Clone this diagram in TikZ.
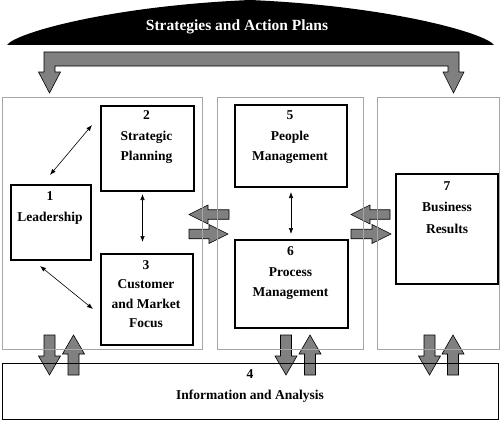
\documentclass[tikz,border=0pt]{standalone}
\usepackage{fontspec}
\setmainfont{Liberation Serif}
\usetikzlibrary{arrows.meta}
\definecolor{fatgray}{HTML}{808080}
\definecolor{outergray}{HTML}{A6A6A6}
\begin{document}
\tikzset{
  outer/.style={draw=outergray, line width=0.8pt, inner sep=0pt, anchor=north west},
  inner/.style={draw=black, line width=1.6pt, inner sep=0pt, anchor=north west},
  lbl/.style={font=\fontsize{13.5}{20.5}\selectfont\bfseries, align=center, inner sep=0pt},
  fatfill/.style={fill=fatgray, draw=black, line width=0.6pt},
  thinarrow/.style={{Latex[length=6pt,width=4.5pt]}-{Latex[length=6pt,width=4.5pt]}, line width=0.6pt},
  pics/fat/.style n args={2}{code={\draw[fatfill] (0,-#2/2) -- (#1-19,-#2/2) -- (#1-19,-#2) -- (#1,0) -- (#1-19,#2) -- (#1-19,#2/2) -- (0,#2/2) -- cycle;}}
}
\begin{tikzpicture}[x=1pt,y=-1pt]
\useasboundingbox (0,0) rectangle (500,420);
% dome
\fill[black] (7,45) .. controls (15,33) and (110,6) .. (250,0) .. controls (390,6) and (485,33) .. (494,45) -- cycle;
\node[lbl, text=white, font=\fontsize{15.5}{18}\selectfont\bfseries] (title) at (237,27) {Strategies and Action Plans};
% top bracket arrow
\draw[fatfill] (44,52) -- (459,52) -- (459,72) -- (464,72) -- (453.5,93) -- (443,72) -- (448,72) -- (448,66)
  -- (55,66) -- (55,72) -- (60.5,72) -- (49.5,93) -- (38.5,72) -- (44,72) -- cycle;
% fat horizontal arrows
\pic[rotate=180] at (229,214.5) {fat={40}{9.5}};
\pic at (189,234) {fat={39}{9.5}};
\pic[rotate=180] at (390,214.5) {fat={39}{9.5}};
\pic at (351,234) {fat={40}{9.5}};
% fat vertical arrows
\pic[rotate=-90] at (49.5,335) {fat={40}{11}};
\pic[rotate=90] at (73.5,375) {fat={40}{11}};
\pic[rotate=-90] at (286,335) {fat={40}{11}};
\pic[rotate=90] at (310,375) {fat={40}{11}};
\pic[rotate=-90] at (429.5,335) {fat={40}{11}};
\pic[rotate=90] at (453,375) {fat={40}{11}};
% outer boxes
\node[outer, minimum width=200pt, minimum height=252pt] (oL) at (2,97) {};
\node[outer, minimum width=146pt, minimum height=252pt] (oM) at (217,97) {};
\node[outer, minimum width=122pt, minimum height=252pt] (oR) at (377,97) {};
% inner boxes
\node[inner, minimum width=80pt, minimum height=75pt] (b1) at (10,184) {};
\node[inner, minimum width=93pt, minimum height=85pt] (b2) at (100,105) {};
\node[inner, minimum width=92pt, minimum height=91pt] (b3) at (100,253) {};
\node[inner, minimum width=112pt, minimum height=82pt] (b5) at (234,104) {};
\node[inner, minimum width=113pt, minimum height=88pt] (b6) at (234,239) {};
\node[inner, minimum width=102pt, minimum height=110pt] (b7) at (395,173) {};
\node[inner, line width=1.3pt, minimum width=496pt, minimum height=56pt] (b4) at (2,363) {};
% labels
\node[lbl, font=\fontsize{13.5}{21.5}\selectfont\bfseries] (t1) at (50,208) {1\\Leadership};
\node[lbl] (t2) at (146.5,137.5) {2\\Strategic\\Planning};
\node[lbl, font=\fontsize{13.5}{19.5}\selectfont\bfseries] (t3) at (146,294) {3\\Customer\\and Market\\Focus};
\node[lbl] (t5) at (290,137.5) {5\\People\\Management};
\node[lbl] (t6) at (290.5,273.5) {6\\Process\\Management};
\node[lbl, font=\fontsize{13.5}{21.5}\selectfont\bfseries] (t7) at (447,207.5) {7\\Business\\Results};
\node[lbl, font=\fontsize{13.5}{21}\selectfont\bfseries] (t4) at (250,386.5) {4\\Information and Analysis};
% thin double arrows
\coordinate (a12s) at (50,175);
\coordinate (a12e) at (92,125);
\coordinate (a23s) at (142.5,194);
\coordinate (a23e) at (142.5,242);
\coordinate (a13s) at (40,266);
\coordinate (a13e) at (93,309);
\coordinate (a56s) at (291,192);
\coordinate (a56e) at (291,234);
\draw[thinarrow] (a12s) -- (a12e);
\draw[thinarrow] (a23s) -- (a23e);
\draw[thinarrow] (a13s) -- (a13e);
\draw[thinarrow] (a56s) -- (a56e);
\end{tikzpicture}
\end{document}
